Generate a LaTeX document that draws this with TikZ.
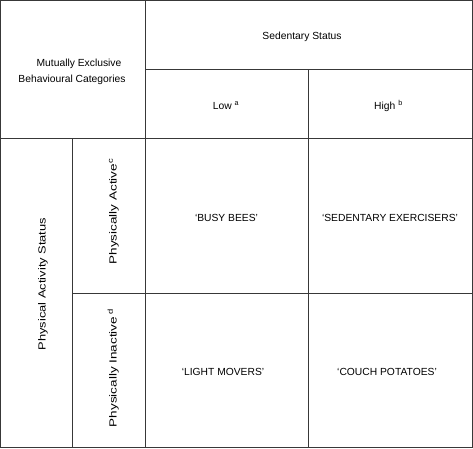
\documentclass[tikz,border=0pt]{standalone}
\usepackage{fontspec}
\setmainfont{Liberation Sans}
\usetikzlibrary{positioning}
\newcommand{\supmark}[1]{\textsuperscript{#1}}

\begin{document}
\begin{tikzpicture}[
    x=1pt, y=-1pt,
    grid/.style={draw=black!78, line width=1pt},
    side/.style={rotate=90, xscale=#1, anchor=base},
    every node/.style={ font=\fontsize{10.3}{16.5}\selectfont,
                        align=center,
                        anchor=base,
                        inner sep=0pt}]

    \useasboundingbox (0,0) rectangle (473,448);

    % table lines
    \draw[grid] (0.5,0.5) rectangle (472.5,447);
    \draw[grid] (145,0.5) -- (145,447);
    \draw[grid] (0.5,138) -- (472.5,138);
    \draw[grid] (145,69) -- (472.5,69);
    \draw[grid] (308.5,69) -- (308.5,447);
    \draw[grid] (72,138) -- (72,447);
    \draw[grid] (72,293) -- (472.5,293);

    % header
    \node (mutual) at (79,66) {Mutually Exclusive};
    \node (behav) at (72,82.5) {Behavioural Categories};
    \node (sed) at (302,39.5) {Sedentary Status};
    \node (low) at (226,109) {Low \supmark{a}};
    \node (high) at (388.5,109) {High \supmark{b}};

    % rows
    \node[side=1.25] (pas) at (45.5,284) {Physical Activity Status};
    \node[side=1.31] (active) at (116.5,211.5) {Physically Active\supmark{c}};
    \node[side=1.31] (inactive) at (116.5,368) {Physically Inactive\,\supmark{d}};

    % categories
    \node (bees) at (226.5,221) {‘BUSY BEES’};
    \node (exer) at (390,221) {‘SEDENTARY EXERCISERS’};
    \node (light) at (223,375) {‘LIGHT MOVERS’};
    \node (couch) at (387,375) {‘COUCH POTATOES’};

\end{tikzpicture}
\end{document}
